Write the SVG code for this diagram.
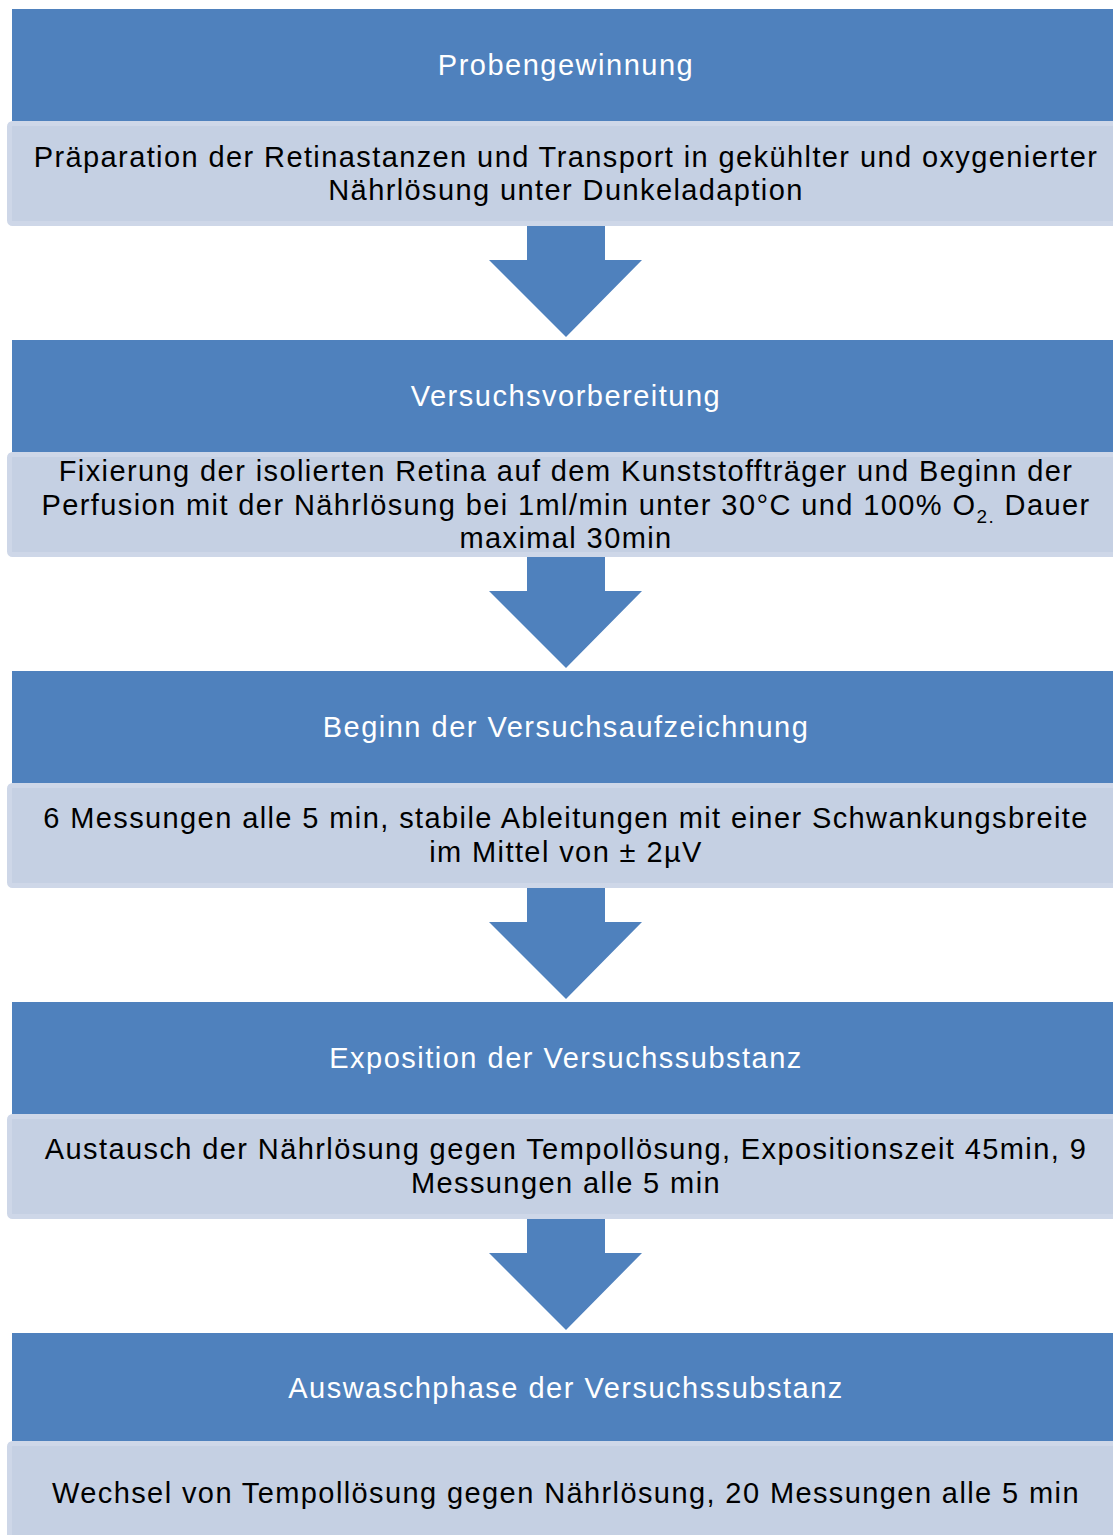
<svg xmlns="http://www.w3.org/2000/svg" width="1113" height="1535" viewBox="0 0 1113 1535">
<style>
.hd{fill:#4f81bd}
.bx{fill:#c5d0e3;stroke:#ced7e8;stroke-width:5}
.ar{fill:#4f81bd}
.ht{font-family:"Liberation Sans",Arial,sans-serif;font-size:29px;letter-spacing:1.5px;fill:#ffffff;text-anchor:middle}
.bt{font-family:"Liberation Sans",Arial,sans-serif;font-size:29px;letter-spacing:1.4px;fill:#000000;text-anchor:middle}
</style>
<rect width="1113" height="1535" fill="#ffffff"/>
<g id="connectors">
<polygon class="ar" points="527,224 605,224 605,260 642,260 566,337 489,260 527,260"/>
<polygon class="ar" points="527,555 605,555 605,591 642,591 566,668 489,591 527,591"/>
<polygon class="ar" points="527,886 605,886 605,922 642,922 566,999 489,922 527,922"/>
<polygon class="ar" points="527,1217 605,1217 605,1253 642,1253 566,1330 489,1253 527,1253"/>
</g>
<g id="node1">
<rect class="hd" x="12" y="9" width="1110" height="113"/>
<rect class="bx" x="9.5" y="123.5" width="1110" height="100" rx="3"/>
<text class="ht" x="566" y="75">Probengewinnung</text>
<text class="bt" x="566" y="167">Präparation der Retinastanzen und Transport in gekühlter und oxygenierter</text>
<text class="bt" x="566" y="200">Nährlösung unter Dunkeladaption</text>
</g>
<g id="node2">
<rect class="hd" x="12" y="340" width="1110" height="113"/>
<rect class="bx" x="9.5" y="454.5" width="1110" height="100" rx="3"/>
<text class="ht" x="566" y="406">Versuchsvorbereitung</text>
<text class="bt" x="566" y="481">Fixierung der isolierten Retina auf dem Kunststoffträger und Beginn der</text>
<text class="bt" x="566" y="515">Perfusion mit der Nährlösung bei 1ml/min unter 30°C und 100% O<tspan font-size="19" dy="8">2.</tspan><tspan dy="-8"> Dauer</tspan></text>
<text class="bt" x="566" y="548">maximal 30min</text>
</g>
<g id="node3">
<rect class="hd" x="12" y="671" width="1110" height="113"/>
<rect class="bx" x="9.5" y="785.5" width="1110" height="100" rx="3"/>
<text class="ht" x="566" y="737">Beginn der Versuchsaufzeichnung</text>
<text class="bt" x="566" y="828">6 Messungen alle 5 min, stabile Ableitungen mit einer Schwankungsbreite</text>
<text class="bt" x="566" y="862">im Mittel von ± 2µV</text>
</g>
<g id="node4">
<rect class="hd" x="12" y="1002" width="1110" height="113"/>
<rect class="bx" x="9.5" y="1116.5" width="1110" height="100" rx="3"/>
<text class="ht" x="566" y="1068">Exposition der Versuchssubstanz</text>
<text class="bt" x="566" y="1159">Austausch der Nährlösung gegen Tempollösung, Expositionszeit 45min, 9</text>
<text class="bt" x="566" y="1193">Messungen alle 5 min</text>
</g>
<g id="node5">
<rect class="hd" x="12" y="1333" width="1110" height="109"/>
<rect class="bx" x="9.5" y="1443.5" width="1110" height="100" rx="3"/>
<text class="ht" x="566" y="1398">Auswaschphase der Versuchssubstanz</text>
<text class="bt" x="566" y="1503">Wechsel von Tempollösung gegen Nährlösung, 20 Messungen alle 5 min</text>
</g>
</svg>
